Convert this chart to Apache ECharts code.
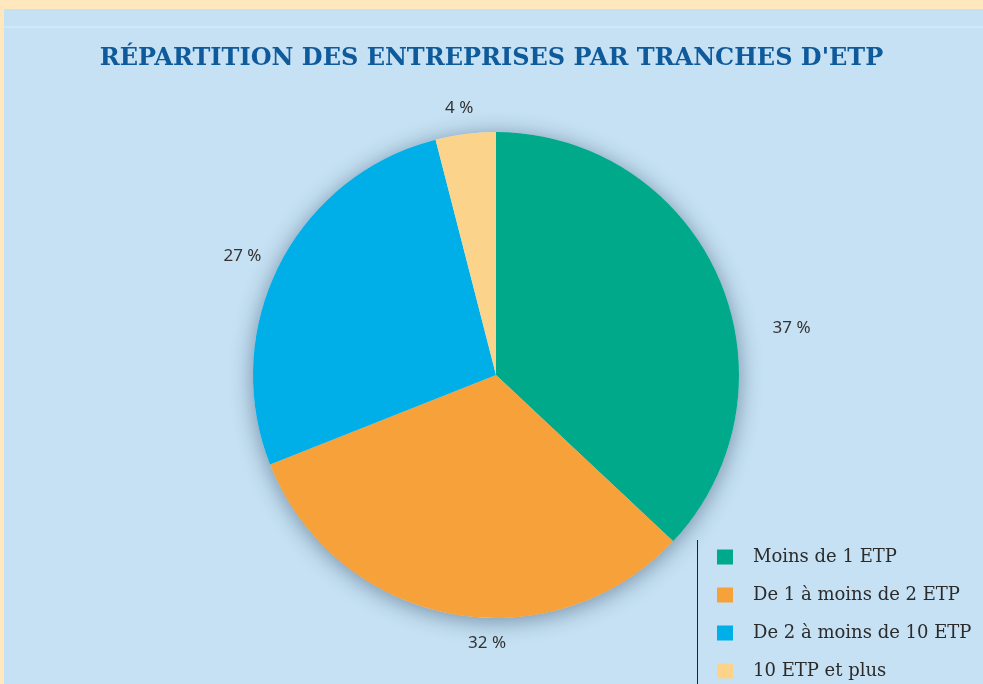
<!DOCTYPE html>
<html>
<head>
<meta charset="utf-8">
<script src="https://cdn.jsdelivr.net/npm/echarts@6/dist/echarts.min.js"></script>
<style>
  html, body { margin: 0; padding: 0; background: #FFE8BE; }
  #chart { width: 983px; height: 684px; }
</style>
</head>
<body>
<div id="chart"></div>
<script>
// tranches d'ETP
var categories = ["Moins de 1 ETP", "De 1 à moins de 2 ETP", "De 2 à moins de 10 ETP", "10 ETP et plus"];
var shares = [37, 32, 27, 4];
var sliceColors = ["#00A98A", "#F6A13A", "#00AEE8", "#FCD38A"];
// small nudges of the percentage labels, as placed in the original
var labelNudge = [[32, 57], [64, 12], [3, 0], [15, -8]];

var chart = echarts.init(document.getElementById("chart"));

var pieData = categories.map(function(name, i) {
  return { name: name, value: shares[i], itemStyle: { color: sliceColors[i] } };
});

chart.setOption({
  backgroundColor: "#FFE8BE",
  animation: false,
  graphic: [
    {
      type: "rect",
      z: -10,
      shape: { x: 4, y: 9, width: 979, height: 675 },
      style: { fill: "#C5E1F3" }
    },
    {
      type: "rect",
      z: -9,
      shape: { x: 4, y: 26, width: 979, height: 2 },
      style: { fill: "#D3E8F6" }
    },
    {
      type: "line",
      shape: { x1: 697.5, y1: 540, x2: 697.5, y2: 684 },
      style: { stroke: "#222", lineWidth: 1 }
    }
  ],
  title: {
    text: "RÉPARTITION DES ENTREPRISES PAR TRANCHES D'ETP",
    left: "center",
    top: 42,
    textStyle: {
      fontFamily: "DejaVu Serif",
      fontWeight: "bold",
      fontSize: 24,
      color: "#0E5A9B"
    }
  },
  legend: {
    orient: "vertical",
    left: 717,
    top: 548,
    padding: 0,
    icon: "rect",
    itemWidth: 16,
    itemHeight: 15,
    itemGap: 20,
    selectedMode: false,
    textStyle: {
      fontFamily: "DejaVu Serif",
      fontSize: 18,
      lineHeight: 18,
      color: "#2b2b2b",
      padding: [0, 0, 0, 15]
    },
    data: categories
  },
  series: [
    {
      // soft shadow disc under the slices
      type: "pie",
      silent: true,
      center: [496, 375],
      radius: 243,
      z: 1,
      label: { show: false },
      labelLine: { show: false },
      data: [{ value: 1, name: "", itemStyle: { color: "#C5E1F3" } }],
      itemStyle: {
        shadowBlur: 22,
        shadowOffsetY: 3,
        shadowColor: "rgba(20,40,70,0.45)"
      }
    },
    {
      type: "pie",
      center: [496, 375],
      radius: 243,
      z: 2,
      startAngle: 90,
      clockwise: true,
      data: pieData,
      label: {
        show: true,
        position: "outside",
        formatter: "{c} %",
        fontFamily: "Noto Sans",
        fontSize: 17,
        color: "#333"
      },
      labelLine: { show: false, length: 18, length2: 0 },
      labelLayout: function(params) {
        var n = labelNudge[params.dataIndex];
        return { dx: n[0], dy: n[1] };
      }
    }
  ]
});
</script>
</body>
</html>
